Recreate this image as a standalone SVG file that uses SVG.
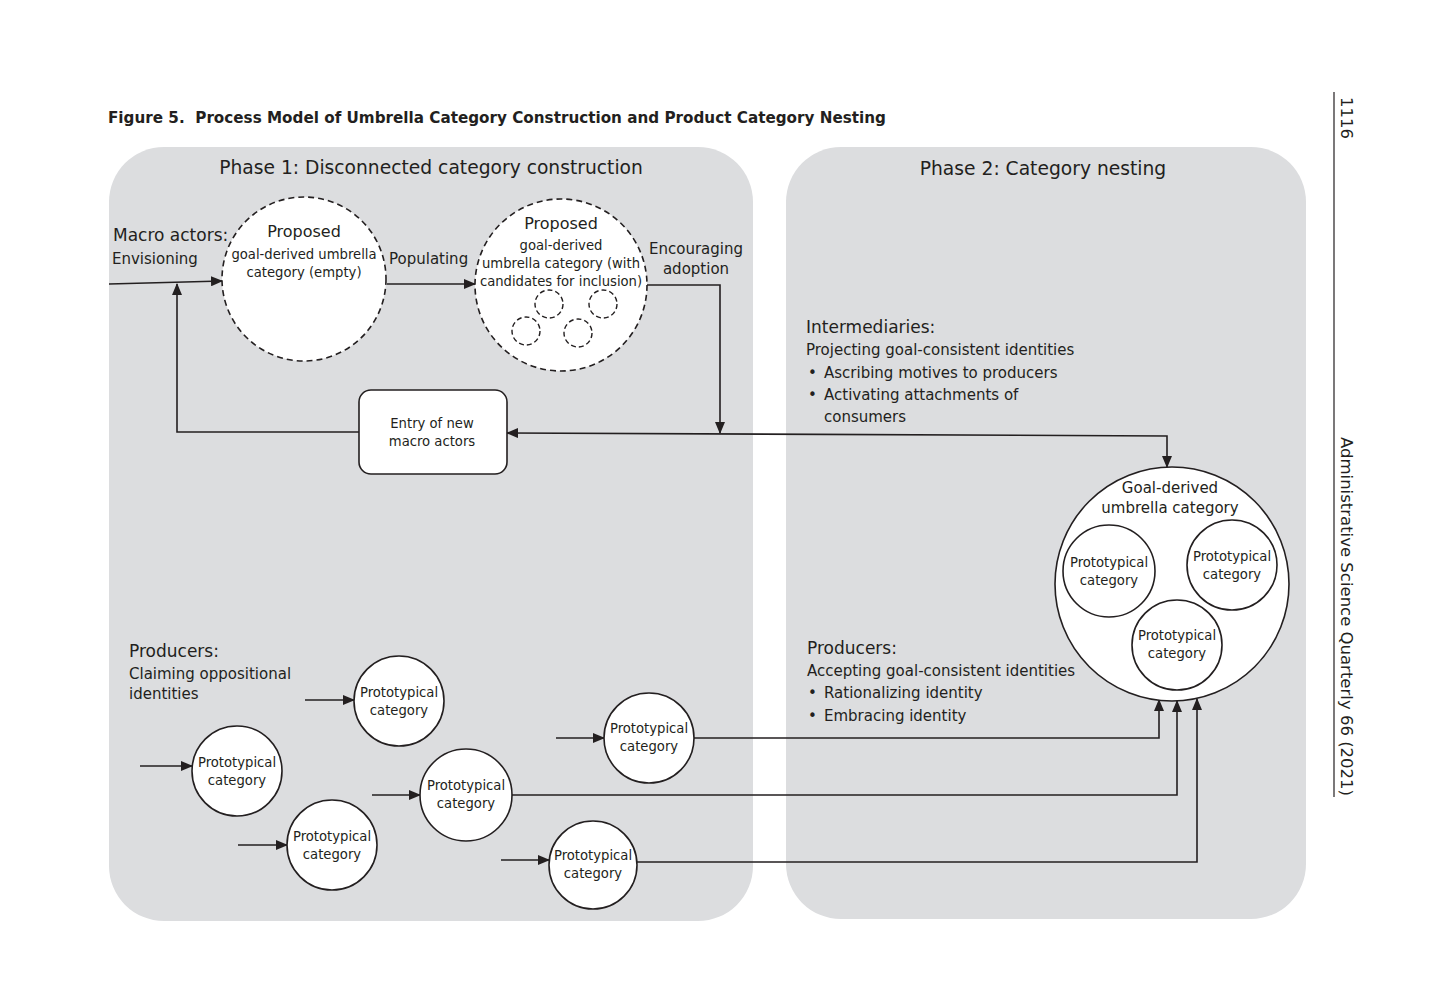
<svg xmlns="http://www.w3.org/2000/svg" width="1440" height="1008" viewBox="0 0 1440 1008">
<style>
text{font-family:"DejaVu Sans","Liberation Sans",Arial,sans-serif;fill:#231f20}
.panel{fill:#dcdddf;stroke:none}
.node{fill:#fff;stroke:#231f20;stroke-width:1.6}
.dash{fill:#fff;stroke:#231f20;stroke-width:1.6;stroke-dasharray:6 4}
.dashs{fill:none;stroke:#231f20;stroke-width:1.4;stroke-dasharray:5 3}
.conn{fill:none;stroke:#231f20;stroke-width:1.6}
.ptitle{font-size:18.7px;text-anchor:middle}
.lab{font-size:17px}
.sub{font-size:15px}
.small{font-size:13.2px;text-anchor:middle}
.mid{font-size:15px;text-anchor:middle}
.big{font-size:16px;text-anchor:middle}
</style>
<defs>
<marker id="ah" markerUnits="userSpaceOnUse" markerWidth="12" markerHeight="10" refX="11" refY="5" orient="auto-start-reverse" viewBox="0 0 12 10">
<path d="M0,0 L12,5 L0,10 Z" fill="#231f20"/>
</marker>
</defs>
<rect width="1440" height="1008" fill="#fff"/>
<text x="108" y="123" style="font-size:15.2px;font-weight:bold">Figure 5.&#160; Process Model of Umbrella Category Construction and Product Category Nesting</text>
<g id="panel1">
<rect class="panel" x="109" y="147" width="644" height="774" rx="55"/>
<text class="ptitle" x="431" y="174">Phase 1: Disconnected category construction</text>
</g>
<g id="panel2">
<rect class="panel" x="786" y="147" width="520" height="772" rx="55"/>
<text class="ptitle" x="1043" y="175">Phase 2: Category nesting</text>
</g>
<g id="margin">
<line x1="1334" y1="92" x2="1334" y2="797" stroke="#231f20" stroke-width="1.2"/>
<text transform="translate(1341,97) rotate(90)" style="font-size:16.5px">1116</text>
<text transform="translate(1341,437) rotate(90)" style="font-size:16.5px">Administrative Science Quarterly 66 (2021)</text>
</g>
<g id="labels">
<text class="lab" x="113" y="241">Macro actors:</text>
<text class="sub" x="112" y="264">Envisioning</text>
<text class="sub" x="389" y="264">Populating</text>
<text class="sub" x="696" y="254" text-anchor="middle">Encouraging</text>
<text class="sub" x="696" y="274" text-anchor="middle">adoption</text>
<text class="lab" x="806" y="333">Intermediaries:</text>
<text class="sub" x="806" y="355">Projecting goal-consistent identities</text>
<text class="sub" x="808" y="378">•</text><text class="sub" x="824" y="378">Ascribing motives to producers</text>
<text class="sub" x="808" y="400">•</text><text class="sub" x="824" y="400">Activating attachments of</text>
<text class="sub" x="824" y="422">consumers</text>
<text class="lab" x="807" y="654">Producers:</text>
<text class="sub" x="807" y="676">Accepting goal-consistent identities</text>
<text class="sub" x="808" y="698">•</text><text class="sub" x="824" y="698">Rationalizing identity</text>
<text class="sub" x="808" y="721">•</text><text class="sub" x="824" y="721">Embracing identity</text>
<text class="lab" x="129" y="657">Producers:</text>
<text class="sub" x="129" y="679">Claiming oppositional</text>
<text class="sub" x="129" y="699">identities</text>
</g>
<g id="connectors">
<path class="conn" d="M109,284 L222,281" marker-end="url(#ah)"/>
<path class="conn" d="M387,284 H475" marker-end="url(#ah)"/>
<path class="conn" d="M647,285 H720 V433" marker-end="url(#ah)"/>
<path class="conn" d="M507,433 L1167,436 V467" marker-start="url(#ah)" marker-end="url(#ah)"/>
<path class="conn" d="M359,432 H177 V284" marker-end="url(#ah)"/>
<path class="conn" d="M305,700 H354" marker-end="url(#ah)"/>
<path class="conn" d="M140,766 H192" marker-end="url(#ah)"/>
<path class="conn" d="M238,845 H287" marker-end="url(#ah)"/>
<path class="conn" d="M372,795 H420" marker-end="url(#ah)"/>
<path class="conn" d="M556,738 H604" marker-end="url(#ah)"/>
<path class="conn" d="M501,860 H549" marker-end="url(#ah)"/>
<path class="conn" d="M694,738 H1159 V700" marker-end="url(#ah)"/>
<path class="conn" d="M512,795 H1177 V701" marker-end="url(#ah)"/>
<path class="conn" d="M637,862 H1197 V699" marker-end="url(#ah)"/>
</g>
<g id="proposed-empty">
<circle class="dash" cx="304" cy="279" r="82"/>
<text class="big" x="304" y="237">Proposed</text>
<text class="small" x="304" y="259">goal-derived umbrella</text>
<text class="small" x="304" y="277">category (empty)</text>
</g>
<g id="proposed-candidates">
<circle class="dash" cx="561" cy="285" r="86"/>
<text class="big" x="561" y="229">Proposed</text>
<text class="small" x="561" y="250">goal-derived</text>
<text class="small" x="561" y="268">umbrella category (with</text>
<text class="small" x="561" y="286">candidates for inclusion)</text>
<circle class="dashs" cx="549" cy="304" r="14"/>
<circle class="dashs" cx="603" cy="304" r="14"/>
<circle class="dashs" cx="526" cy="331" r="14"/>
<circle class="dashs" cx="578" cy="333" r="14"/>
</g>
<g id="entry-box">
<rect class="node" x="359" y="390" width="148" height="84" rx="12"/>
<text class="small" x="432" y="428">Entry of new</text>
<text class="small" x="432" y="446">macro actors</text>
</g>
<g id="umbrella">
<circle class="node" cx="1172" cy="584" r="117"/>
<text class="mid" x="1170" y="493">Goal-derived</text>
<text class="mid" x="1170" y="513">umbrella category</text>
<circle class="node" cx="1109" cy="571" r="46"/>
<text class="small" x="1109" y="567">Prototypical</text>
<text class="small" x="1109" y="585">category</text>
<circle class="node" cx="1232" cy="565" r="45"/>
<text class="small" x="1232" y="561">Prototypical</text>
<text class="small" x="1232" y="579">category</text>
<circle class="node" cx="1177" cy="645" r="45"/>
<text class="small" x="1177" y="640">Prototypical</text>
<text class="small" x="1177" y="658">category</text>
</g>
<g id="proto-a">
<circle class="node" cx="399" cy="701" r="45"/>
<text class="small" x="399" y="697">Prototypical</text>
<text class="small" x="399" y="715">category</text>
</g>
<g id="proto-b">
<circle class="node" cx="237" cy="771" r="45"/>
<text class="small" x="237" y="767">Prototypical</text>
<text class="small" x="237" y="785">category</text>
</g>
<g id="proto-c">
<circle class="node" cx="332" cy="845" r="45"/>
<text class="small" x="332" y="841">Prototypical</text>
<text class="small" x="332" y="859">category</text>
</g>
<g id="proto-d">
<circle class="node" cx="466" cy="795" r="46"/>
<text class="small" x="466" y="790">Prototypical</text>
<text class="small" x="466" y="808">category</text>
</g>
<g id="proto-e">
<circle class="node" cx="649" cy="738" r="45"/>
<text class="small" x="649" y="733">Prototypical</text>
<text class="small" x="649" y="751">category</text>
</g>
<g id="proto-f">
<circle class="node" cx="593" cy="865" r="44"/>
<text class="small" x="593" y="860">Prototypical</text>
<text class="small" x="593" y="878">category</text>
</g>
</svg>
